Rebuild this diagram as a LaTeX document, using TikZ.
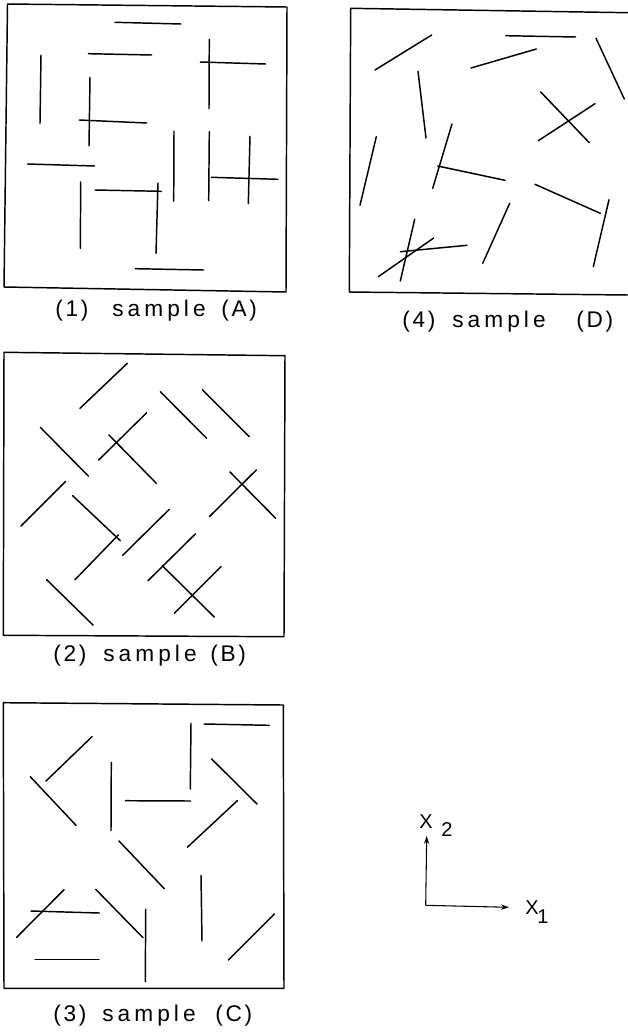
\documentclass[tikz,border=0pt]{standalone}
\usepackage{fontspec}
\setmainfont{Liberation Sans}
\usetikzlibrary{arrows.meta}
\begin{document}
\begin{tikzpicture}[x=0.75pt,y=-0.75pt,
  fib/.style={line width=1.1pt,line cap=round},
  frame/.style={line width=1.1pt,line join=round},
  capword/.style={font=\fontsize{17}{19}\selectfont\addfontfeature{LetterSpace=18},inner sep=0pt,anchor=west},
  cappar/.style={font=\fontsize{17}{19}\selectfont\addfontfeature{LetterSpace=12},inner sep=0pt,anchor=west},
  axis/.style={line width=0.8pt,-{Stealth[length=6pt,width=4pt]}},
  axlab/.style={font=\fontsize{15}{17}\selectfont,inner sep=0pt}]
\useasboundingbox (0,0) rectangle (628,1036);
% ---------------- panel 1 : sample A
\draw[frame] (7.5,4) -- (287,7) -- (286,292) -- (4,287) -- cycle;
\draw[fib] (115,22.3) -- (181,24);
\draw[fib] (88.3,53.7) -- (151.7,55);
\draw[fib] (209.3,39.3) -- (209,108.7);
\draw[fib] (200.3,62) -- (265.7,64);
\draw[fib] (41,55) -- (40,123.3);
\draw[fib] (90,77.3) -- (89,146);
\draw[fib] (79.3,120) -- (146.7,123);
\draw[fib] (174,131) -- (173.7,201.3);
\draw[fib] (209.3,131.7) -- (208.7,200.7);
\draw[fib] (250,136.3) -- (248.3,203.7);
\draw[fib] (211.3,177.3) -- (278,179.3);
\draw[fib] (27.7,164) -- (94.7,166);
\draw[fib] (80.7,182) -- (80.3,248.3);
\draw[fib] (95,190) -- (161.3,191.3);
\draw[fib] (158,183) -- (156,253.3);
\draw[fib] (135.3,268.7) -- (203.7,270);
\node[cappar] (capA1) at (55,311) {(1)};
\node[capword] (capA2) at (112,311) {sample};
\node[cappar] (capA3) at (221,311) {(A)};
% ---------------- panel 4 : sample D
\draw[frame] (628,12.7) -- (350.7,8.3) -- (349.3,292) -- (628,295);
\draw[fib] (375,70) -- (431.7,35);
\draw[fib] (505.7,35.7) -- (575.7,37);
\draw[fib] (471,68) -- (536.3,49);
\draw[fib] (596,38.3) -- (624.3,99);
\draw[fib] (418,71.3) -- (426,138);
\draw[fib] (540.7,92) -- (589.3,142.7);
\draw[fib] (538.3,140.7) -- (595,103.7);
\draw[fib] (376.3,136.7) -- (360,205.3);
\draw[fib] (452,124) -- (432.7,188.3);
\draw[fib] (437.7,166) -- (505,180.3);
\draw[fib] (535,184.3) -- (600.3,213.3);
\draw[fib] (609,199.7) -- (593.3,266.7);
\draw[fib] (509.7,203.3) -- (482.7,263.3);
\draw[fib] (414.7,219.3) -- (400.3,281);
\draw[fib] (433.7,238) -- (378.3,276.7);
\draw[fib] (400.3,251.7) -- (467,245.3);
\node[cappar] (capD1) at (402,322) {(4)};
\node[capword] (capD2) at (452,322) {sample};
\node[cappar] (capD3) at (576,322) {(D)};
% ---------------- panel 2 : sample B
\draw[frame] (4,352.3) -- (285,355.7) -- (284,636.7) -- (3.3,635.3) -- cycle;
\draw[fib] (80,408.3) -- (127.3,363.3);
\draw[fib] (160.3,391.7) -- (206.7,438.3);
\draw[fib] (202.3,389.7) -- (249.3,436.7);
\draw[fib] (40.3,427.3) -- (88.3,476);
\draw[fib] (98.7,460) -- (146.7,412.7);
\draw[fib] (109,435) -- (156.3,483.3);
\draw[fib] (230,472) -- (275.7,518.3);
\draw[fib] (209.3,516.7) -- (256.3,470);
\draw[fib] (21,526) -- (65.7,481.3);
\draw[fib] (72.7,495.7) -- (120.3,540.7);
\draw[fib] (75,579.7) -- (118.3,535);
\draw[fib] (122.7,555.3) -- (169.3,509.3);
\draw[fib] (148,580.7) -- (195.3,534);
\draw[fib] (162.3,565.7) -- (214.3,617);
\draw[fib] (174.3,613.3) -- (221,566.7);
\draw[fib] (46.7,579.7) -- (93,625);
\node[cappar] (capB1) at (53,656) {(2)};
\node[capword] (capB2) at (103,656) {sample};
\node[cappar] (capB3) at (210,656) {(B)};
% ---------------- panel 3 : sample C
\draw[frame] (3.3,702.7) -- (283.3,705) -- (284,988.3) -- (4,988.3) -- cycle;
\draw[fib] (46,781) -- (92,736.7);
\draw[fib] (30.3,776.7) -- (76,825.3);
\draw[fib] (111.3,762.3) -- (111,830.7);
\draw[fib] (191,723.3) -- (190.3,789);
\draw[fib] (204,724) -- (269.3,725.3);
\draw[fib] (125.3,800.7) -- (190.7,801);
\draw[fib] (211.7,759) -- (257,804);
\draw[fib] (187.3,847.3) -- (237.3,800.7);
\draw[fib] (119,841) -- (164.3,888.7);
\draw[fib] (201,875.3) -- (202,941);
\draw[fib] (64,889.7) -- (16.7,937.3);
\draw[fib] (31,911) -- (99.3,913);
\draw[fib] (95.7,889.3) -- (143,937.7);
\draw[fib] (145.7,909.3) -- (145.3,981.7);
\draw[fib] (35,959.3) -- (99,959.3);
\draw[fib] (228.3,960) -- (274.3,914);
\node[cappar] (capC1) at (53,1016) {(3)};
\node[capword] (capC2) at (102,1016) {sample};
\node[cappar] (capC3) at (215,1016) {(C)};
% ---------------- axes
\coordinate (O) at (425.7,905.3);
\coordinate (e2) at (426.7,836);
\coordinate (e1) at (509,907.3);
\draw[axis] (O) -- (e2);
\draw[axis] (O) -- (e1);
\node[axlab] (X2) at (426,822) {X};
\node[axlab] (X2s) at (447,830) {2};
\node[axlab] (X1) at (532,908) {X};
\node[axlab] (X1s) at (543,917) {1};
\end{tikzpicture}
\end{document}
